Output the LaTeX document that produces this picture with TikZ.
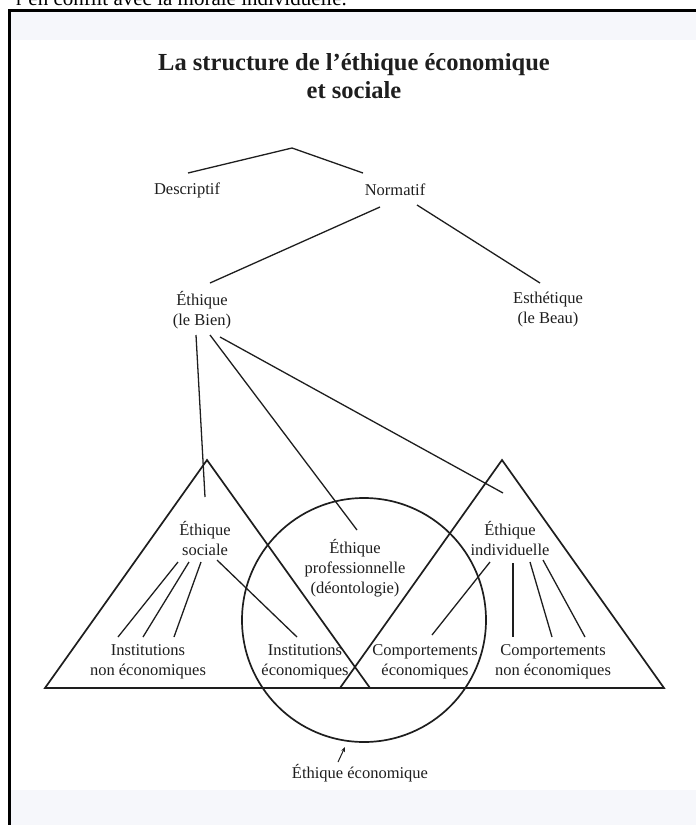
\documentclass[tikz,border=0pt]{standalone}
\usepackage{fontspec}
\setmainfont{Liberation Serif}
\usetikzlibrary{calc,arrows.meta}
\definecolor{ink}{RGB}{30,30,30}
\definecolor{band}{RGB}{246,247,251}
\begin{document}
\begin{tikzpicture}[x=1pt,y=-1pt,
  lbl/.style={inner sep=0pt, outer sep=0pt, align=center, text=ink,
    font=\fontsize{16.5}{20}\selectfont},
  ttl/.style={inner sep=0pt, outer sep=0pt, align=center, text=ink,
    font=\fontsize{24.5}{28}\selectfont\bfseries},
  edge/.style={line width=1.3pt, draw=ink},
  outline/.style={line width=1.7pt, draw=ink},
]
\useasboundingbox (0,0) rectangle (696,825);
% background bands
\fill[band] (11,12) rectangle (696,40);
\fill[band] (11,790) rectangle (696,825);
% cut-off text at the top
\begin{scope}
\clip (0,0) rectangle (696,825);
\node[anchor=base east, inner sep=0pt, font=\fontsize{21}{24}\selectfont] (top) at (347,5.5) {r en conflit avec la morale individuelle.};
\end{scope}
% frame
\draw[line width=3pt, draw=black] (9.5,825) -- (9.5,10.5) -- (696,10.5);

% title
\node[ttl] (title) at (354,76) {La structure de l’éthique économique\\et sociale};

% upper tree
\coordinate (apex) at (292,148);
\node[lbl] (desc) at (187,190) {Descriptif};
\node[lbl] (norm) at (395,190) {Normatif};
\node[lbl] (bien) at (202,310) {Éthique\\(le Bien)};
\node[lbl] (beau) at (548,310) {Esthétique\\(le Beau)};

\draw[edge] ($(desc)+(1,-17)$) -- (apex) -- ($(norm)+(-32,-17)$);
\draw[edge] ($(norm)+(-15,17)$) -- ($(bien)+(8,-27)$);
\draw[edge] ($(norm)+(22,15)$) -- ($(beau)+(-8,-27)$);

% triangles and circle
\draw[outline] (207,460) -- (45,688) -- (370,688) -- cycle;
\draw[outline] (502,460) -- (340,688) -- (664,688) -- cycle;
\draw[outline] (364,620) circle[radius=122];

% lower nodes
\node[lbl] (sociale) at (205,538) {Éthique\\sociale};
\node[lbl] (prof) at (355,568) {Éthique\\professionnelle\\(déontologie)};
\node[lbl] (indiv) at (510,538) {Éthique\\individuelle};
\node[lbl] (inse) at (148,662) {Institutions\\non économiques};
\node[lbl] (inste) at (305,662) {Institutions\\économiques};
\node[lbl] (compe) at (425,662) {Comportements\\économiques};
\node[lbl] (compne) at (553,662) {Comportements\\non économiques};
\node[lbl] (ecoeth) at (360,773) {Éthique économique};

% from Éthique (le Bien)
\draw[edge] ($(bien)+(-6,25)$) -- ($(sociale)+(0,-41)$);
\draw[edge] ($(bien)+(8,25)$) -- ($(prof)+(2,-38)$);
\draw[edge] ($(bien)+(18,27)$) -- ($(indiv)+(-7,-45)$);

% Éthique sociale
\draw[edge] ($(sociale)+(-27,24)$) -- ($(inse)+(-30,-25)$);
\draw[edge] ($(sociale)+(-16,24)$) -- ($(inse)+(-5,-25)$);
\draw[edge] ($(sociale)+(-4,24)$) -- ($(inse)+(26,-25)$);
\draw[edge] ($(sociale)+(12,22)$) -- ($(inste)+(-8,-25)$);

% Éthique individuelle
\draw[edge] ($(indiv)+(-20,24)$) -- ($(compe)+(7,-27)$);
\draw[edge] ($(indiv)+(3,25)$) -- ($(compne)+(-40,-25)$);
\draw[edge] ($(indiv)+(20,24)$) -- ($(compne)+(-1,-25)$);
\draw[edge] ($(indiv)+(33,22)$) -- ($(compne)+(32,-25)$);

% arrow to circle
\draw[line width=1pt, draw=ink, -{Stealth[length=5pt,width=4pt]}] ($(ecoeth)+(-22,-11)$) -- ($(ecoeth)+(-15,-26)$);
\end{tikzpicture}
\end{document}
